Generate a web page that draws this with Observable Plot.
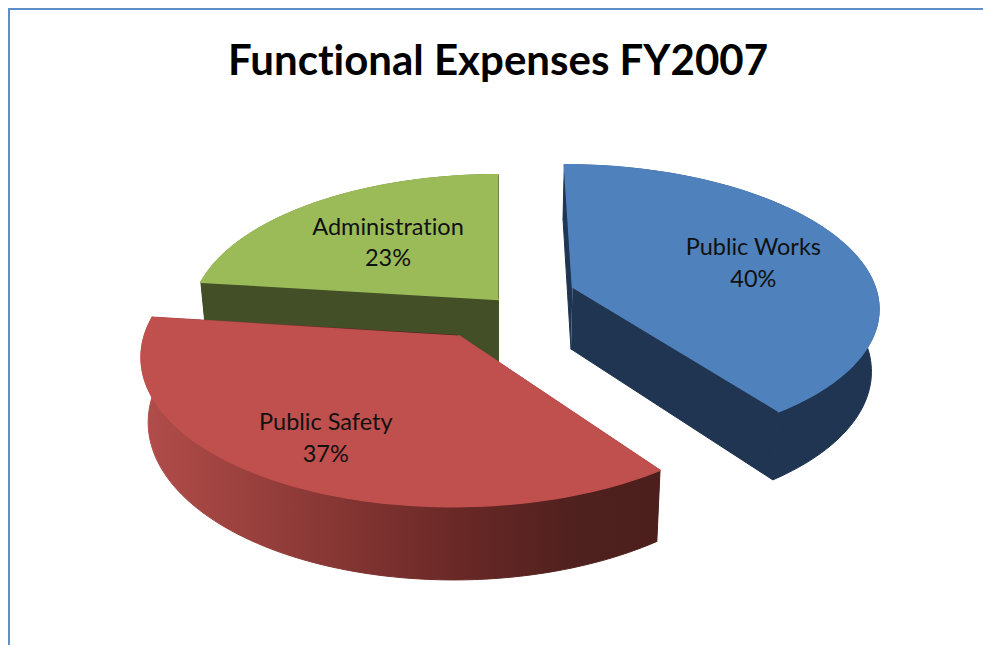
<!DOCTYPE html>
<html>
<head>
<meta charset="utf-8">
<script src="https://cdn.jsdelivr.net/npm/d3@7"></script>
<script src="https://cdn.jsdelivr.net/npm/@observablehq/plot@0.6"></script>
<style>
  html, body { margin: 0; padding: 0; background: #fff; overflow: hidden; }
  #frame { position: absolute; left: 8px; top: 8px; width: 975px; height: 637px;
           border-left: 2px solid #5f8fcb; border-top: 2px solid #5f8fcb; box-sizing: border-box; }
  #title { position: absolute; left: 0; top: 0; width: 976px; height: 90px;
           text-align: center; font: 700 42px/98px Lato, sans-serif; color: #000;
           font-variant-ligatures: none; white-space: nowrap; }
  #chart { position: absolute; left: 0; top: 90px; }
  svg { display: block; font-variant-ligatures: none; }
</style>
</head>
<body>
<div id="frame">
  <div id="title">Functional Expenses FY2007</div>
  <div id="chart"></div>
</div>
<script>
// ---- data
const categories = ["Public Works", "Public Safety", "Administration"];
const shares = [40, 37, 23];

// ---- styles and exploded-slice layout (pie-plane units, radius = 1)
const topColors  = ["#4f81bd", "#c0504d", "#9bbb59"];
const wallColors = ["#1f3552", "url(#redWall)", "#434f27"];
const sliceOffsetX = [0.2416, -0.125, 0];
const sliceOffsetY = [0.228, -0.1, 0.1445];
const sliceRadius  = [0.99, 0.985, 0.985];
const labelRadius  = [0.643, 0.71, 0.585];
const labelNudgeX  = [0, -0.012, 0.01];

// ---- perspective camera of the tilted pie
const vanishX = 498, vanishY = -835, scaleXY = 315, depthK = 0.128;
const topH = 1155, bottomH = 1218, bottomShrink = 0.98;
function project(X, Y, bottom) {
  const w = 1 + depthK * Y;
  return {
    x: vanishX + (bottom ? bottomShrink : 1) * scaleXY * X / w,
    y: vanishY + (bottom ? bottomH : topH) / w
  };
}

// ---- slice geometry from the values
const arcs = d3.pie().sort(null).value(d => d)(shares);
const steps = 90;
const polys = [];   // points of all filled polygons
function addPoly(id, fill, sw, pts) { pts.forEach(p => polys.push({id, fill, sw, ...p})); }

function onRim(i, a, r = sliceRadius[i]) {
  return [sliceOffsetX[i] + r * Math.sin(a), sliceOffsetY[i] + r * Math.cos(a)];
}
function rim(i, a0, a1, bottom) {
  return d3.range(steps + 1).map(k => {
    const [X, Y] = onRim(i, a0 + (a1 - a0) * k / steps);
    return project(X, Y, bottom);
  });
}
function drawSlice(i) {
  const {startAngle: a0, endAngle: a1} = arcs[i];
  const ox = sliceOffsetX[i], oy = sliceOffsetY[i];
  const apexT = project(ox, oy, false), apexB = project(ox, oy, true);
  const [sx, sy] = onRim(i, a0), [ex, ey] = onRim(i, a1);
  const wall = wallColors[i];
  // cut faces
  addPoly(`${i}-cutA`, wall, 1, [apexT, project(sx, sy, false), project(sx, sy, true), apexB]);
  addPoly(`${i}-cutB`, wall, 1, [apexT, project(ex, ey, false), project(ex, ey, true), apexB]);
  // outer wall
  addPoly(`${i}-wall`, wall, 1, [...rim(i, a0, a1, false), ...rim(i, a0, a1, true).reverse()]);
  // top face
  addPoly(`${i}-top`, topColors[i], 1.4, [apexT, ...rim(i, a0, a1, false)]);
}
// back to front
[2, 0, 1].forEach(drawSlice);

// ---- labels, placed on each slice's bisector
const labels = categories.map((name, i) => {
  const mid = (arcs[i].startAngle + arcs[i].endAngle) / 2;
  const [X, Y] = onRim(i, mid, labelRadius[i]);
  return {text: `${name}\n${shares[i]}%`, ...project(X + labelNudgeX[i], Y, false)};
});

const defs = () => {
  const d = d3.create("svg:defs");
  const g = d.append("linearGradient").attr("id", "redWall")
    .attr("x1", 0).attr("x2", 1).attr("y1", 0).attr("y2", 0);
  [[0, "#b24d4a"], [0.3, "#8f3b38"], [0.6, "#6a2927"], [0.85, "#4e201e"], [1, "#4c1f1d"]]
    .forEach(([o, c]) => g.append("stop").attr("offset", o).attr("stop-color", c));
  return d.node();
};

const chart = Plot.plot({
  width: 973,
  height: 545,
  margin: 0,
  x: {domain: [10, 983], range: [0, 973], axis: null},
  y: {domain: [100, 645], range: [0, 545], axis: null},
  marks: [
    defs,
    Plot.line(polys, {x: "x", y: "y", z: "id", fill: "fill", stroke: "fill", strokeWidth: "sw", curve: "linear"}),
    Plot.text(labels, {x: "x", y: "y", text: "text", lineHeight: 1.36, fontSize: 23.5,
                       fontFamily: "Lato, sans-serif", fill: "#111", textAnchor: "middle"})
  ]
});
document.getElementById("chart").appendChild(chart);
</script>
</body>
</html>
